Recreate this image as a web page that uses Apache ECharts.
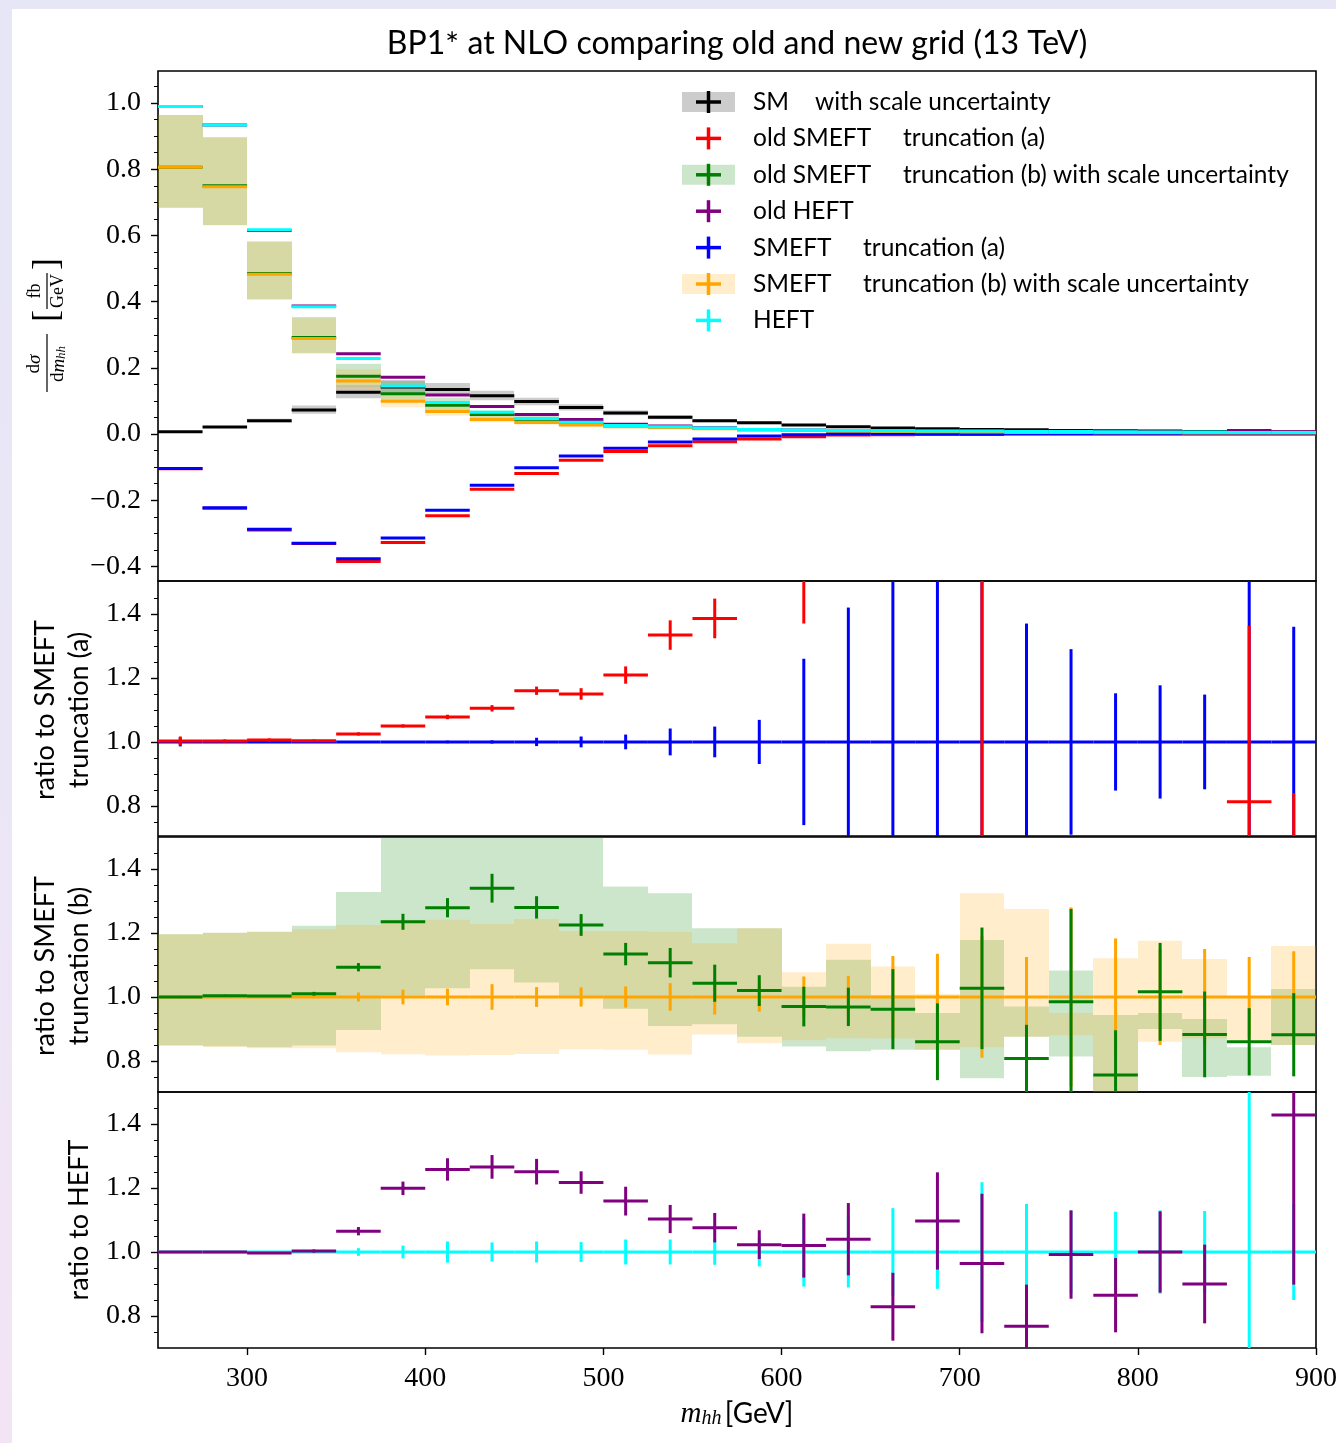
<!DOCTYPE html>
<html><head><meta charset="utf-8">
<script src="https://cdn.jsdelivr.net/npm/echarts@6/dist/echarts.min.js"></script>
<style>
html,body{margin:0;padding:0;}
body{width:1336px;height:1443px;background:linear-gradient(180deg,#e6e6f6 0%,#ebe6f6 55%,#f3e4f4 100%);overflow:hidden;position:relative;}
#card{position:absolute;left:12px;top:9px;right:0;bottom:0;background:#fff;}
#chart{position:absolute;left:0;top:0;width:1336px;height:1443px;}
</style></head><body><div id="card"></div><div id="chart"></div>
<script>
// ---------------- data ----------------
const binEdges = [250,275,300,325,350,375,400,425,450,475,500,525,550,575,600,625,650,675,700,725,750,775,800,825,850,875,900];

// main panel: dsigma/dm_hh [fb/GeV]
const sm        = [0.007,0.021,0.040,0.0725,0.126,0.142,0.135,0.116,0.098,0.080,0.064,0.051,0.040,0.034,0.027,0.022,0.018,0.016,0.014,0.013,0.011,0.010,0.009,0.008,0.007,0.006];
const smLo      = [0.006,0.018,0.035,0.061,0.108,0.123,0.118,0.102,0.087,0.071,0.057,0.045,0.036,0.030,0.024,0.020,0.016,0.014,0.0125,0.0116,0.0098,0.0089,0.008,0.0071,0.0062,0.0053];
const smHi      = [0.008,0.024,0.046,0.086,0.147,0.163,0.154,0.131,0.110,0.090,0.072,0.057,0.045,0.038,0.030,0.025,0.020,0.018,0.0157,0.0146,0.0123,0.0112,0.0101,0.009,0.0079,0.0068];
const oldSmeftA = [-0.105,-0.224,-0.290,-0.331,-0.385,-0.328,-0.247,-0.167,-0.119,-0.079,-0.053,-0.035,-0.023,-0.015,-0.008,-0.003,-0.002,-0.001,-0.001,0,0,0,0,0,0,0];
const oldSmeftB = [0.806,0.750,0.485,0.292,0.175,0.122,0.087,0.059,0.045,0.033,0.025,0.021,0.017,0.013,0.011,0.009,0.008,0.006,0.006,0.004,0.005,0.003,0.004,0.003,0.003,0.003];
const oldHeft   = [0.990,0.934,0.615,0.387,0.243,0.172,0.118,0.083,0.059,0.044,0.030,0.024,0.019,0.014,0.012,0.011,0.008,0.010,0.009,0.006,0.008,0.006,0.006,0.005,0.011,0.007];
const smeftA    = [-0.104,-0.223,-0.288,-0.330,-0.377,-0.314,-0.230,-0.155,-0.102,-0.066,-0.043,-0.024,-0.015,-0.006,-0.002,0.000,0.001,0.001,0.0005,0.001,0.001,0.001,0.001,0.001,0.0008,0.0008];
const smeftB    = [0.806,0.747,0.483,0.289,0.160,0.099,0.068,0.044,0.035,0.027,0.022,0.019,0.016,0.013,0.011,0.009,0.008,0.007,0.006,0.005,0.005,0.004,0.004,0.003,0.003,0.003];
const heft      = [0.990,0.934,0.617,0.385,0.228,0.145,0.095,0.066,0.047,0.036,0.026,0.022,0.018,0.014,0.012,0.011,0.010,0.009,0.009,0.008,0.008,0.007,0.006,0.006,0.005,0.005];

// ratio to SMEFT truncation (a)
const ratioOldA = [1.003,1.003,1.006,1.004,1.025,1.050,1.078,1.105,1.160,1.150,1.209,1.334,1.386,1.75,1.70,2.5,3.0,3.5,1.9,-1.0,-1.5,0.2,0.3,0.3,0.813,0.40];
const errOldA   = [0.014,0.005,0.005,0.004,0.005,0.005,0.007,0.010,0.013,0.018,0.027,0.046,0.062,0.08,0.33,0.2,0.2,0.2,1.3,0.3,0.3,0.3,0.3,0.3,0.55,0.44];
const errNewA   = [0.014,0.003,0.003,0.003,0.003,0.003,0.004,0.005,0.013,0.017,0.023,0.042,0.048,0.069,0.26,0.42,0.8,0.8,0.8,0.37,0.29,0.152,0.177,0.148,0.8,0.36];

// ratio to SMEFT truncation (b)
const ratioOldB = [1.0,1.004,1.003,1.010,1.093,1.235,1.279,1.340,1.280,1.225,1.134,1.107,1.043,1.020,0.970,0.969,0.962,0.860,1.027,0.808,0.985,0.756,1.016,0.883,0.860,0.882];
const errOldB   = [0.003,0.003,0.003,0.006,0.013,0.025,0.030,0.045,0.035,0.034,0.035,0.046,0.058,0.048,0.062,0.060,0.125,0.120,0.190,0.105,0.290,0.140,0.153,0.134,0.105,0.130];
const errNewB   = [0.004,0.003,0.003,0.004,0.014,0.023,0.026,0.040,0.031,0.030,0.033,0.043,0.055,0.046,0.064,0.066,0.128,0.135,0.190,0.125,0.280,0.183,0.150,0.150,0.125,0.143];
const bandNewBLo = [0.848,0.844,0.840,0.840,0.827,0.821,0.817,0.819,0.822,0.837,0.835,0.820,0.883,0.855,0.865,0.871,0.870,0.835,0.843,0.876,0.880,0.650,0.860,0.870,0.860,0.850];
const bandNewBHi = [1.196,1.201,1.204,1.212,1.225,1.241,1.241,1.228,1.244,1.206,1.206,1.204,1.168,1.215,1.077,1.166,1.095,1.009,1.324,1.275,0.950,1.121,1.176,1.119,1.000,1.159];
const bandOldBLo = [0.848,0.846,0.843,0.848,0.897,1.005,1.027,1.087,1.045,1.000,0.963,0.909,0.915,0.876,0.845,0.830,0.835,0.835,0.746,0.876,0.814,0.650,0.900,0.750,0.754,0.850];
const bandOldBHi = [1.196,1.201,1.204,1.223,1.328,1.620,1.620,1.620,1.620,1.620,1.345,1.324,1.215,1.215,1.032,1.116,1.005,0.950,1.178,0.970,1.083,0.944,0.950,0.931,0.843,1.025];

// ratio to HEFT
const ratioOldH = [1.0,1.0,0.997,1.003,1.065,1.199,1.258,1.266,1.251,1.217,1.159,1.103,1.076,1.023,1.020,1.040,0.829,1.097,0.964,0.768,0.992,0.865,1.0,0.90,2.2,1.428];
const errOldH   = [0.003,0.003,0.003,0.005,0.013,0.021,0.035,0.037,0.040,0.035,0.045,0.044,0.046,0.045,0.100,0.113,0.106,0.152,0.218,0.130,0.138,0.116,0.127,0.123,0.3,0.53];
const errNewH   = [0.003,0.003,0.003,0.003,0.012,0.020,0.033,0.030,0.033,0.031,0.039,0.039,0.040,0.045,0.108,0.111,0.137,0.115,0.218,0.150,0.130,0.126,0.130,0.128,0.6,0.150];
const ones = binEdges.slice(1).map(() => 1.0);

// ticks
const yTicksMain  = [-0.4,-0.2,0.0,0.2,0.4,0.6,0.8,1.0];
const yMinorMain  = [-0.40,-0.35,-0.30,-0.25,-0.20,-0.15,-0.10,-0.05,0.00,0.05,0.10,0.15,0.20,0.25,0.30,0.35,0.40,0.45,0.50,0.55,0.60,0.65,0.70,0.75,0.80,0.85,0.90,0.95,1.00,1.05];
const yTicksRatio = [0.8,1.0,1.2,1.4];
const yMinorRatio = [0.75,0.80,0.85,0.90,0.95,1.00,1.05,1.10,1.15,1.20,1.25,1.30,1.35,1.40,1.45];
const xTicks      = [300,400,500,600,700,800,900];

// legend labels
const legendRows = [
  {a:'SM', b:'with scale uncertainty', bx:815, color:'#000000', band:'rgba(128,128,128,0.4)'},
  {a:'old SMEFT', b:'truncation (a)', bx:903, color:'#ff0000'},
  {a:'old SMEFT', b:'truncation (b) with scale uncertainty', bx:903, color:'#008000', band:'rgba(0,128,0,0.2)'},
  {a:'old HEFT', b:'', bx:0, color:'#800080'},
  {a:'SMEFT', b:'truncation (a)', bx:863, color:'#0000ff'},
  {a:'SMEFT', b:'truncation (b) with scale uncertainty', bx:863, color:'#ffa500', band:'rgba(255,165,0,0.2)'},
  {a:'HEFT', b:'', bx:0, color:'#00ffff'}
];

// ---------------- helpers ----------------
const SANS = 'Lato, Roboto, "Noto Sans", sans-serif';
const SERIF = '"Liberation Serif", "DejaVu Serif", serif';
const C = {sm:'#000000', red:'#ff0000', green:'#008000', purple:'#800080', blue:'#0000ff', orange:'#ffa500', cyan:'#00ffff'};

function crossData(vals, errs){ return vals.map((v,i)=>[binEdges[i], binEdges[i+1], v, errs ? errs[i] : 0]); }
function bandData(lo, hi){ return lo.map((l,i)=>[binEdges[i], binEdges[i+1], l, hi[i]]); }
function scaled(rel, base){ return rel.map((r,i)=>r*base[i]); }

function renderCross(color, lw){
  return function(params, api){
    const cs = params.coordSys;
    const x0 = api.value(0), x1 = api.value(1), v = api.value(2), e = api.value(3);
    const a = api.coord([x0, v]), b = api.coord([x1, v]);
    const xm = (a[0] + b[0]) / 2;
    const top = cs.y, bot = cs.y + cs.height;
    const st = {stroke:color, lineWidth:lw, lineCap:'butt', fill:null};
    const ch = [];
    if (e > 0){
      const yt = api.coord([x0, v + e])[1], yb = api.coord([x0, v - e])[1];
      const y1 = Math.max(top, Math.min(bot, yt)), y2 = Math.max(top, Math.min(bot, yb));
      if (y2 - y1 > 0.5) ch.push({type:'line', shape:{x1:xm, y1:y1, x2:xm, y2:y2}, style:st});
    }
    if (a[1] >= top - 0.5 && a[1] <= bot + 0.5) ch.push({type:'line', shape:{x1:a[0], y1:a[1], x2:b[0], y2:b[1]}, style:st});
    return {type:'group', children:ch};
  };
}
function renderBand(fill){
  return function(params, api){
    const cs = params.coordSys;
    const p0 = api.coord([api.value(0), api.value(3)]);
    const p1 = api.coord([api.value(1), api.value(2)]);
    const x0 = Math.round(p0[0]), x1 = Math.round(p1[0]);
    const r = echarts.graphic.clipRectByRect(
      {x:x0, y:p0[1], width:x1 - x0, height:p1[1] - p0[1]},
      {x:cs.x, y:cs.y, width:cs.width, height:cs.height});
    if (!r) return null;
    return {type:'rect', shape:r, style:{fill:fill}};
  };
}
function crossSeries(gi, vals, errs, color){
  return {type:'custom', xAxisIndex:gi, yAxisIndex:2*gi, data:crossData(vals, errs), renderItem:renderCross(color, 3), silent:true};
}
function bandSeries(gi, lo, hi, fill){
  return {type:'custom', xAxisIndex:gi, yAxisIndex:2*gi, data:bandData(lo, hi), renderItem:renderBand(fill), silent:true};
}
function fmt(v){ return (v < 0 ? '\u2212' : '') + Math.abs(v).toFixed(1); }

const gridDefs = [
  {top:71, height:510, min:-0.444, max:1.097, major:yTicksMain, minor:yMinorMain},
  {top:581, height:255, min:0.706, max:1.503, major:yTicksRatio, minor:yMinorRatio},
  {top:837, height:255, min:0.703, max:1.500, major:yTicksRatio, minor:yMinorRatio},
  {top:1092, height:256, min:0.700, max:1.500, major:yTicksRatio, minor:yMinorRatio}
];
const grids = gridDefs.map(g => ({left:158, width:1158, top:g.top, height:g.height, show:true, borderColor:'#000', borderWidth:1.6, backgroundColor:'rgba(0,0,0,0)', containLabel:false, outerBoundsMode:'none'}));
const yAxes = [];
gridDefs.forEach((g, gi) => {
  yAxes.push({type:'value', gridIndex:gi, min:g.min, max:g.max, position:'left',
    axisLine:{show:false}, splitLine:{show:false},
    axisTick:{show:true, length:7, customValues:g.major, lineStyle:{color:'#000', width:1.4}},
    axisLabel:{show:true, customValues:g.major, margin:17, fontFamily:SERIF, fontSize:28, color:'#000', formatter:fmt}});
  yAxes.push({type:'value', gridIndex:gi, min:g.min, max:g.max, position:'left',
    axisLine:{show:false}, splitLine:{show:false}, axisLabel:{show:false},
    axisTick:{show:true, length:4, customValues:g.minor, lineStyle:{color:'#000', width:1}}});
});
const xAxes = gridDefs.map((g, gi) => ({type:'value', gridIndex:gi, min:250, max:900,
  axisLine:{show:false}, splitLine:{show:false},
  axisTick:{show:gi === 3, length:7, customValues:xTicks, lineStyle:{color:'#000', width:1.4}},
  axisLabel:{show:gi === 3, customValues:xTicks, margin:17, fontFamily:SERIF, fontSize:28, color:'#000', hideOverlap:false}}));

const series = [
  // panel 1 bands
  bandSeries(0, smLo, smHi, 'rgba(128,128,128,0.4)'),
  bandSeries(0, scaled(bandOldBLo, smeftB), scaled(bandOldBHi, smeftB), 'rgba(0,128,0,0.2)'),
  bandSeries(0, scaled(bandNewBLo, smeftB), scaled(bandNewBHi, smeftB), 'rgba(255,165,0,0.2)'),
  // panel 1 lines
  crossSeries(0, sm, null, C.sm),
  crossSeries(0, oldSmeftA, null, C.red),
  crossSeries(0, oldSmeftB, null, C.green),
  crossSeries(0, oldHeft, null, C.purple),
  crossSeries(0, smeftA, null, C.blue),
  crossSeries(0, smeftB, null, C.orange),
  crossSeries(0, heft, null, C.cyan),
  // panel 2
  crossSeries(1, ones, errNewA, C.blue),
  crossSeries(1, ratioOldA, errOldA, C.red),
  // panel 3
  bandSeries(2, bandOldBLo, bandOldBHi, 'rgba(0,128,0,0.2)'),
  bandSeries(2, bandNewBLo, bandNewBHi, 'rgba(255,165,0,0.2)'),
  crossSeries(2, ones, errNewB, C.orange),
  crossSeries(2, ratioOldB, errOldB, C.green),
  // panel 4
  crossSeries(3, ones, errNewH, C.cyan),
  crossSeries(3, ratioOldH, errOldH, C.purple)
];

// ---------------- text / legend graphics ----------------
const graphic = [];
graphic.push({type:'text', x:737, y:44, style:{text:'BP1{sup|\u2217} at NLO comparing old and new grid (13 TeV)', fontFamily:SANS, fontSize:32, fill:'#000', align:'center', verticalAlign:'middle', rich:{sup:{fontFamily:SANS, fontSize:17, verticalAlign:'top', fill:'#000'}}}});

const rowY0 = 102, rowDy = 36.4;
legendRows.forEach((r, i) => {
  const y = rowY0 + i * rowDy;
  if (r.band) graphic.push({type:'rect', shape:{x:682, y:y - 10, width:53, height:20}, style:{fill:r.band}});
  graphic.push({type:'line', shape:{x1:696, y1:y, x2:721, y2:y}, style:{stroke:r.color, lineWidth:3.5}});
  graphic.push({type:'line', shape:{x1:708.5, y1:y - 11, x2:708.5, y2:y + 11}, style:{stroke:r.color, lineWidth:3.5}});
  graphic.push({type:'text', x:753, y:y, style:{text:r.a, fontFamily:SANS, fontSize:24.5, fill:'#000', align:'left', verticalAlign:'middle'}});
  if (r.b) graphic.push({type:'text', x:r.bx, y:y, style:{text:r.b, fontFamily:SANS, fontSize:24.5, fill:'#000', align:'left', verticalAlign:'middle'}});
});

// y label panel 1 (rotated fraction)
graphic.push({type:'group', x:47, y:326, rotation:Math.PI/2, children:[
  {type:'text', x:-38, y:-3, style:{text:'d{i|\u03c3}', fontFamily:SERIF, fontSize:19, fill:'#000', align:'center', verticalAlign:'bottom', rich:{i:{fontFamily:SERIF, fontStyle:'italic', fontSize:19}}}},
  {type:'line', shape:{x1:-66, y1:0, x2:-8, y2:0}, style:{stroke:'#000', lineWidth:1.2}},
  {type:'text', x:-38, y:2, style:{text:'d{i|m}{s|hh}', fontFamily:SERIF, fontSize:19, fill:'#000', align:'center', verticalAlign:'top', rich:{i:{fontFamily:SERIF, fontStyle:'italic', fontSize:19}, s:{fontFamily:SERIF, fontStyle:'italic', fontSize:13, verticalAlign:'bottom'}}}},
  {type:'text', x:4, y:1, style:{text:'[', fontFamily:SERIF, fontSize:36, fill:'#000', align:'left', verticalAlign:'middle'}},
  {type:'text', x:35, y:-3, style:{text:'fb', fontFamily:SERIF, fontSize:18, fill:'#000', align:'center', verticalAlign:'bottom'}},
  {type:'line', shape:{x1:17, y1:0, x2:53, y2:0}, style:{stroke:'#000', lineWidth:1.2}},
  {type:'text', x:35, y:2, style:{text:'GeV', fontFamily:SERIF, fontSize:18, fill:'#000', align:'center', verticalAlign:'top'}},
  {type:'text', x:56, y:1, style:{text:']', fontFamily:SERIF, fontSize:36, fill:'#000', align:'left', verticalAlign:'middle'}}
]});

// ratio labels
function rlabel(x, y, t){ graphic.push({type:'text', x:x, y:y, rotation:Math.PI/2, style:{text:t, fontFamily:SANS, fontSize:27, fill:'#000', align:'center', verticalAlign:'middle'}}); }
rlabel(45, 710, 'ratio to SMEFT');
rlabel(79, 710, 'truncation (a)');
rlabel(45, 966, 'ratio to SMEFT');
rlabel(79, 966, 'truncation (b)');
rlabel(79, 1220, 'ratio to HEFT');

// x label
graphic.push({type:'text', x:737, y:1414, style:{text:'{m|m}{s|hh} {g|[GeV]}', fill:'#000', align:'center', verticalAlign:'middle',
  rich:{m:{fontFamily:SERIF, fontStyle:'italic', fontSize:29}, s:{fontFamily:SERIF, fontStyle:'italic', fontSize:20, verticalAlign:'bottom'}, g:{fontFamily:SANS, fontSize:28}}}});

const chart = echarts.init(document.getElementById('chart'), null, {renderer:'canvas'});
chart.setOption({
  animation:false,
  backgroundColor:'rgba(0,0,0,0)',
  grid:grids, xAxis:xAxes, yAxis:yAxes, series:series, graphic:graphic
});
</script></body></html>
